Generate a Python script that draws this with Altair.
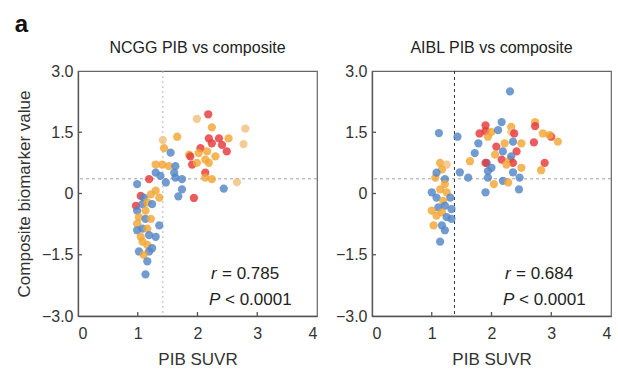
import altair as alt
import pandas as pd

# ---------------- data ----------------
groups = ["blue", "orange", "red", "tan"]
colors = ["#5385c6", "#f3a535", "#e5383b", "#f0c07c"]

ncgg_x = [2.18, 1.99, 2.24, 2.80, 1.66, 1.42, 2.19, 2.36, 2.52, 2.77, 2.24, 2.41, 2.05, 1.44, 1.55, 2.49,
          1.86, 1.88, 2.02, 2.16, 2.30, 2.13, 1.91, 1.99, 2.19, 1.30, 1.41, 1.52, 1.63, 2.13, 2.13, 2.24,
          2.66, 1.30, 1.38, 1.47, 1.63, 1.74, 1.61, 1.19, 0.99, 1.74, 1.68, 2.44, 1.94, 1.30, 1.22, 1.05,
          1.36, 1.10, 0.97, 1.08, 1.16, 1.24, 0.99, 1.13, 1.02, 1.13, 1.22, 1.36, 0.99, 1.08, 0.99, 1.16,
          1.19, 1.30, 1.05, 1.08, 1.16, 1.02, 1.19, 1.24, 1.10, 1.16, 1.13]
ncgg_y = [1.94, 1.83, 1.62, 1.59, 1.39, 1.31, 1.35, 1.35, 1.35, 1.21, 1.23, 1.19, 1.11, 1.11, 1.00, 1.03,
          0.95, 0.91, 0.99, 1.03, 0.91, 0.83, 0.71, 0.75, 0.75, 0.71, 0.71, 0.67, 0.67, 0.51, 0.39, 0.35,
          0.28, 0.51, 0.43, 0.27, 0.39, 0.35, 0.51, 0.35, 0.23, 0.10, -0.07, 0.12, -0.11, 0.07, -0.02, -0.06,
          -0.10, -0.10, -0.30, -0.26, -0.22, -0.26, -0.42, -0.42, -0.58, -0.62, -0.62, -0.78, -0.74, -0.86, -0.90, -0.86,
          -1.02, -1.06, -1.06, -1.18, -1.26, -1.42, -1.42, -1.34, -1.50, -1.66, -1.98]
ncgg_g = ["red", "tan", "orange", "tan", "orange", "tan", "red", "red", "orange", "tan", "red", "red", "red", "orange", "blue", "red",
          "orange", "red", "orange", "orange", "orange", "orange", "red", "orange", "orange", "orange", "orange", "orange", "blue", "red", "orange", "orange",
          "tan", "blue", "blue", "blue", "blue", "blue", "blue", "red", "blue", "blue", "blue", "blue", "red", "orange", "orange", "red",
          "orange", "blue", "red", "blue", "orange", "blue", "blue", "orange", "orange", "blue", "orange", "blue", "orange", "blue", "blue", "orange",
          "blue", "blue", "orange", "orange", "orange", "blue", "blue", "blue", "orange", "blue", "blue"]

aibl_x = [2.31, 1.12, 1.43, 1.90, 1.90, 2.17, 2.33, 2.33, 2.38, 2.73, 2.73, 2.86, 3.00, 3.11, 2.97, 2.71,
          2.00, 1.80, 1.94, 2.11, 2.50, 2.36, 1.78, 2.08, 2.22, 2.19, 1.72, 1.64, 2.42, 2.06, 2.17, 2.31,
          2.33, 2.36, 2.25, 1.92, 2.00, 1.94, 1.90, 2.89, 2.83, 2.50, 2.36, 2.47, 1.94, 1.47, 1.61, 2.19,
          2.04, 2.28, 1.90, 2.46,
          1.14, 1.25, 1.17, 1.06, 1.08, 1.22, 1.22, 1.00, 1.14, 1.25, 1.08, 1.31, 1.19, 1.22, 1.11, 1.00,
          1.17, 1.25, 1.33, 1.03, 1.17, 1.22, 1.14, 1.33, 1.08]
aibl_y = [2.50, 1.48, 1.39, 1.67, 1.53, 1.75, 1.63, 1.51, 1.47, 1.75, 1.65, 1.47, 1.39, 1.27, 1.43, 1.25,
          1.51, 1.47, 1.39, 1.55, 1.23, 1.27, 1.23, 1.15, 1.23, 1.03, 0.99, 0.79, 1.03, 0.95, 0.83, 0.83,
          0.91, 0.75, 0.71, 0.75, 0.63, 0.55, 0.75, 0.75, 0.57, 0.63, 0.52, 0.39, 0.39, 0.52, 0.39, 0.31,
          0.23, 0.27, 0.03, 0.10,
          0.75, 0.71, 0.59, 0.39, 0.51, 0.35, 0.23, 0.03, 0.10, 0.03, -0.10, -0.10, -0.18, -0.30, -0.34, -0.42,
          -0.46, -0.58, -0.62, -0.78, -0.78, -0.90, -1.18, -0.38, -0.54]
aibl_g = ["blue", "blue", "blue", "red", "red", "blue", "orange", "tan", "red", "orange", "red", "orange", "red", "orange", "orange", "red",
          "orange", "red", "orange", "blue", "orange", "blue", "blue", "red", "orange", "blue", "blue", "orange", "red", "orange", "red", "orange",
          "blue", "red", "orange", "blue", "blue", "blue", "red", "red", "orange", "orange", "blue", "blue", "blue", "blue", "blue", "blue",
          "orange", "orange", "blue", "blue",
          "orange", "tan", "orange", "orange", "blue", "blue", "orange", "blue", "orange", "orange", "blue", "blue", "orange", "blue", "blue", "orange",
          "orange", "blue", "blue", "orange", "blue", "blue", "blue", "blue", "orange"]

x_ticks = [0, 1, 2, 3, 4]
y_ticks = [-3.0, -1.5, 0, 1.5, 3.0]
inner_x_ticks = [1, 2, 3]
inner_y_ticks = [-1.5, 0, 1.5]

ncgg_cut = {"x": 1.42, "y": 0.36}
aibl_cut = {"x": 1.38, "y": 0.36}

W, H = 239, 245
FONT = "Liberation Sans"


def panel(xs_, ys_, gs_, title, cut, vcolor, vdash, r_val, show_ytitle):
    df = pd.DataFrame({"x": xs_, "y": ys_, "g": gs_})
    xs = alt.Scale(domain=[0, 4], nice=False, zero=False)
    ys = alt.Scale(domain=[-3, 3], nice=False, zero=False)
    pts = alt.Chart(df).mark_circle(size=68, opacity=0.82).encode(
        x=alt.X("x:Q", scale=xs, axis=alt.Axis(values=x_ticks, title="PIB SUVR", format="d")),
        y=alt.Y("y:Q", scale=ys, axis=alt.Axis(
            values=y_ticks,
            title="Composite biomarker value" if show_ytitle else None,
            labelExpr="datum.value == 0 ? '0' : format(datum.value, '.1f')")),
        color=alt.Color("g:N", scale=alt.Scale(domain=groups, range=colors), legend=None),
    )
    vline = alt.Chart(pd.DataFrame({"x": [cut["x"]]})).mark_rule(
        color=vcolor, strokeDash=vdash, strokeWidth=1).encode(x=alt.X("x:Q", scale=xs))
    hline = alt.Chart(pd.DataFrame({"y": [cut["y"]]})).mark_rule(
        color="#a0a0a0", strokeDash=[3, 3], strokeWidth=1).encode(y=alt.Y("y:Q", scale=ys))
    xt = alt.Chart(pd.DataFrame({"x": inner_x_ticks})).mark_rule(color="#555", strokeWidth=1.3).encode(
        x=alt.X("x:Q", scale=xs), y=alt.value(H), y2=alt.value(H - 4))
    yt = alt.Chart(pd.DataFrame({"y": inner_y_ticks})).mark_rule(color="#555", strokeWidth=1.3).encode(
        y=alt.Y("y:Q", scale=ys), x=alt.value(0), x2=alt.value(4))

    tx = 131
    tsize = 17
    r_it = alt.Chart(pd.DataFrame({"t": ["r"]})).mark_text(
        font=FONT, fontSize=tsize, fontStyle="italic", align="left", baseline="middle", color="#222").encode(
        text="t:N", x=alt.value(tx + 2), y=alt.value(203))
    r_rest = alt.Chart(pd.DataFrame({"t": ["= " + r_val]})).mark_text(
        font=FONT, fontSize=tsize, align="left", baseline="middle", color="#222").encode(
        text="t:N", x=alt.value(tx + 13), y=alt.value(203))
    p_it = alt.Chart(pd.DataFrame({"t": ["P"]})).mark_text(
        font=FONT, fontSize=tsize, fontStyle="italic", align="left", baseline="middle", color="#222").encode(
        text="t:N", x=alt.value(tx), y=alt.value(229))
    p_rest = alt.Chart(pd.DataFrame({"t": ["< 0.0001"]})).mark_text(
        font=FONT, fontSize=tsize, align="left", baseline="middle", color="#222").encode(
        text="t:N", x=alt.value(tx + 16), y=alt.value(229))

    return alt.layer(hline, vline, pts, xt, yt, r_it, r_rest, p_it, p_rest).properties(
        width=W, height=H, title=alt.Title(title, fontSize=16, fontWeight="normal", font=FONT, offset=7, color="#222"))


left = panel(ncgg_x, ncgg_y, ncgg_g, "NCGG PIB vs composite", ncgg_cut, "#b5b5b5", [2, 3], "0.785", True)
right = panel(aibl_x, aibl_y, aibl_g, "AIBL PIB vs composite", aibl_cut, "#333333", [3, 3], "0.684", False)

chart = alt.hconcat(left, right, spacing=15).properties(
    title=alt.Title("a", anchor="start", fontSize=24, fontWeight="bold", font=FONT, color="#111", offset=2),
    padding={"left": 14, "top": 13, "right": 4, "bottom": 0},
).configure_view(
    stroke="#666", strokeWidth=1.2
).configure_axis(
    domainColor="#555", domainWidth=1.3, ticks=False, grid=False,
    labelFont=FONT, labelFontSize=16, labelColor="#333", labelPadding=5,
    titleFont=FONT, titleFontSize=17, titleFontWeight="normal", titleColor="#333",
).configure_axisX(labelPadding=9, titlePadding=10).configure_axisY(titlePadding=8)

chart.save("out.html", embed_options={"renderer": "svg", "actions": False})
